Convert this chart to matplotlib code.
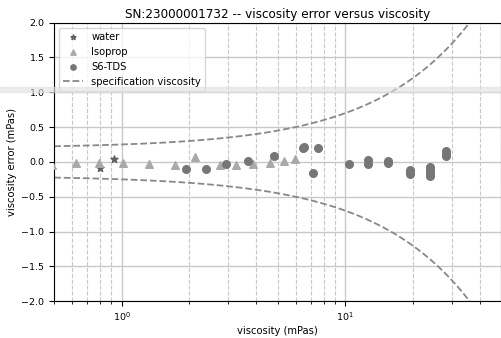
import numpy as np
import matplotlib.pyplot as plt
from matplotlib.patches import Rectangle

plt.rcParams['font.size'] = 7.2

# data
water_x = [0.798, 0.921]
water_y = [-0.09, 0.04]

isoprop_x = [0.49, 0.626, 0.79, 1.018, 1.325, 1.735, 2.13, 2.75, 3.24, 3.87, 4.60, 5.35, 5.95]
isoprop_y = [-0.04, -0.01, -0.01, -0.02, -0.03, -0.045, 0.065, -0.045, -0.04, -0.025, -0.02, 0.01, 0.04]

s6_x = [1.937, 2.38, 2.92, 3.68, 4.81, 6.48, 6.52, 7.18, 7.59, 10.35, 12.6, 12.6,
        15.6, 15.6, 19.5, 19.5, 19.5, 24.0, 24.0, 24.0, 24.0, 28.1, 28.1, 28.1]
s6_y = [-0.1, -0.1, -0.03, 0.015, 0.083, 0.2, 0.22, -0.157, 0.2, -0.03, 0.03, -0.03,
        0.02, -0.02, -0.11, -0.14, -0.17, -0.08, -0.12, -0.16, -0.2, 0.15, 0.12, 0.09]

# specification: +/- (offset + slope * viscosity)
spec_offset = 0.2
spec_slope = 0.05

fig = plt.figure(figsize=(5.02, 3.38), dpi=100)
ax = fig.add_axes([0.108, 0.109, 0.891, 0.824])

ax.scatter(water_x, water_y, marker='*', s=28, color='#606060', label='water', zorder=3)
ax.scatter(isoprop_x, isoprop_y, marker='^', s=30, color='#a9a9a9', label='Isoprop', zorder=3)
ax.scatter(s6_x, s6_y, marker='o', s=30, color='#767676', label='S6-TDS', zorder=3)

xs = np.logspace(np.log10(0.5), np.log10(50), 300)
spec = spec_offset + spec_slope * xs
ax.plot(xs, spec, '--', color='#888888', lw=1.3, label='specification viscosity')
ax.plot(xs, -spec, '--', color='#888888', lw=1.3)

ax.set_xscale('log')
ax.set_xlim(0.5, 50)
ax.set_ylim(-2.0, 2.0)
ax.set_yticks(np.arange(-2.0, 2.01, 0.5))
ax.grid(True, which='major', color='#c8c8c8', lw=1.0)
ax.grid(True, which='minor', axis='x', color='#c8c8c8', ls='--', lw=0.8)
ax.tick_params(labelsize=6.8)

ax.set_xlabel('viscosity (mPas)', labelpad=2)
ax.set_ylabel('viscosity error (mPas)', labelpad=3)
ax.set_title('SN:23000001732 -- viscosity error versus viscosity', fontsize=8.64, pad=3)
ax.legend(loc='upper left', fontsize=7.2, markerscale=0.7)

# light watermark band
fig.patches.append(Rectangle((0, 0.729), 1, 0.013, transform=fig.transFigure,
                             color='#e0e0e0', alpha=0.6, zorder=5))

fig.savefig('out.png', dpi=100)
